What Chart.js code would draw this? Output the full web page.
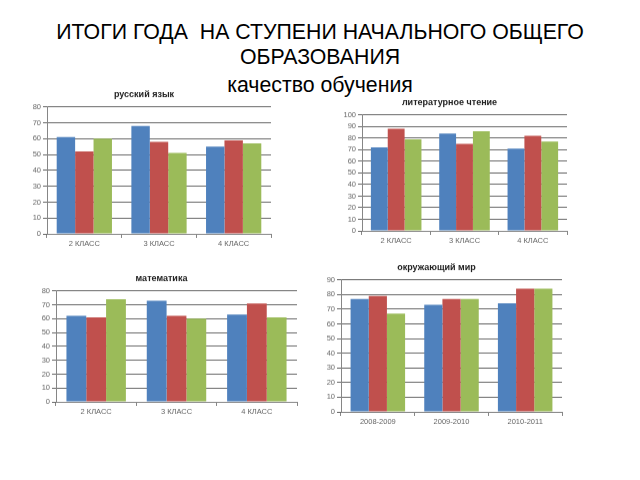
<!DOCTYPE html>
<html>
<head>
<meta charset="utf-8">
<script src="https://cdn.jsdelivr.net/npm/chart.js@4.4.1/dist/chart.umd.min.js"></script>
<style>
    body { margin: 0; width: 640px; height: 480px; background: #fff; position: relative; overflow: hidden; font-family: "Liberation Sans", Arial, sans-serif; }
    .head { position: absolute; left: 0; width: 640px; text-align: center; color: #000; font-size: 21.3px; line-height: 24px; white-space: pre; }
    canvas { position: absolute; }
</style>
</head>
<body>
<div class="head" style="top:20px">ИТОГИ ГОДА  НА СТУПЕНИ НАЧАЛЬНОГО ОБЩЕГО</div>
<div class="head" style="top:45px">ОБРАЗОВАНИЯ</div>
<div class="head" style="top:73px">качество обучения</div>

<canvas id="russian"></canvas>
<canvas id="reading"></canvas>
<canvas id="math"></canvas>
<canvas id="world"></canvas>

<script>
const classes = ["2 КЛАСС", "3 КЛАСС", "4 КЛАСС"];
const years = ["2008-2009", "2009-2010", "2010-2011"];

const russianBlue = [61, 68, 55];
const russianRed = [52, 58, 59];
const russianGreen = [60, 51, 57];

const readingBlue = [72, 84, 71];
const readingRed = [88, 75, 82];
const readingGreen = [79, 86, 77];

const mathBlue = [62, 73, 63];
const mathRed = [61, 62, 71];
const mathGreen = [74, 60, 61];

const worldBlue = [77, 73, 74];
const worldRed = [79, 77, 84];
const worldGreen = [67, 77, 84];

const colors = ["#4F81BD", "#C0504D", "#9BBB59"];

const Y_W = 30;      // y axis width
const X_H = 22;      // x axis height
const T_H = 4 + 10.8 + 7;  // title block height

// area = plot area in page pixels
function makeChart(id, title, labels, series, yMax, area) {
    const cv = document.getElementById(id);
    const w = area.r - area.l + Y_W + 4;
    const h = area.b - area.t + T_H + X_H;
    cv.width = w;
    cv.height = h;
    cv.style.left = (area.l - Y_W) + "px";
    cv.style.top = (area.t - T_H) + "px";
    cv.style.width = w + "px";
    cv.style.height = h + "px";

    new Chart(cv, {
        type: "bar",
        data: {
            labels: labels,
            datasets: series.map((d, i) => ({
                data: d,
                backgroundColor: colors[i],
                borderWidth: 0,
                barPercentage: 1,
                categoryPercentage: 0.74
            }))
        },
        options: {
            responsive: false,
            animation: false,
            layout: { padding: { left: 0, right: 4, top: 0, bottom: 0 } },
            plugins: {
                legend: { display: false },
                tooltip: { enabled: false },
                title: {
                    display: true,
                    text: title,
                    color: "#222",
                    font: { family: "Liberation Sans", size: 9, weight: "bold" },
                    padding: { top: 4, bottom: 7 }
                }
            },
            scales: {
                x: {
                    afterFit: s => { s.height = X_H; },
                    grid: { display: true, drawOnChartArea: false, tickLength: 4, color: "#868686" },
                    border: { color: "#868686" },
                    ticks: { color: "#666", padding: 1, font: { family: "Liberation Sans", size: 7.5 } }
                },
                y: {
                    min: 0,
                    max: yMax,
                    afterFit: s => { s.width = Y_W; },
                    grid: { color: "#6a6a6a", tickLength: 4 },
                    border: { color: "#868686" },
                    ticks: { stepSize: 10, autoSkip: false, color: "#666", padding: 2, font: { family: "Liberation Sans", size: 7.5 } }
                }
            }
        }
    });
}

makeChart("russian", "русский язык", classes,
    [russianBlue, russianRed, russianGreen], 80, { l: 47, r: 271, t: 107, b: 234 });
makeChart("reading", "литературное чтение", classes,
    [readingBlue, readingRed, readingGreen], 100, { l: 362, r: 567, t: 115, b: 231 });
makeChart("math", "математика", classes,
    [mathBlue, mathRed, mathGreen], 80, { l: 56, r: 297, t: 291, b: 402 });
makeChart("world", "окружающий мир", years,
    [worldBlue, worldRed, worldGreen], 90, { l: 341, r: 562, t: 280, b: 412 });
</script>
</body>
</html>
